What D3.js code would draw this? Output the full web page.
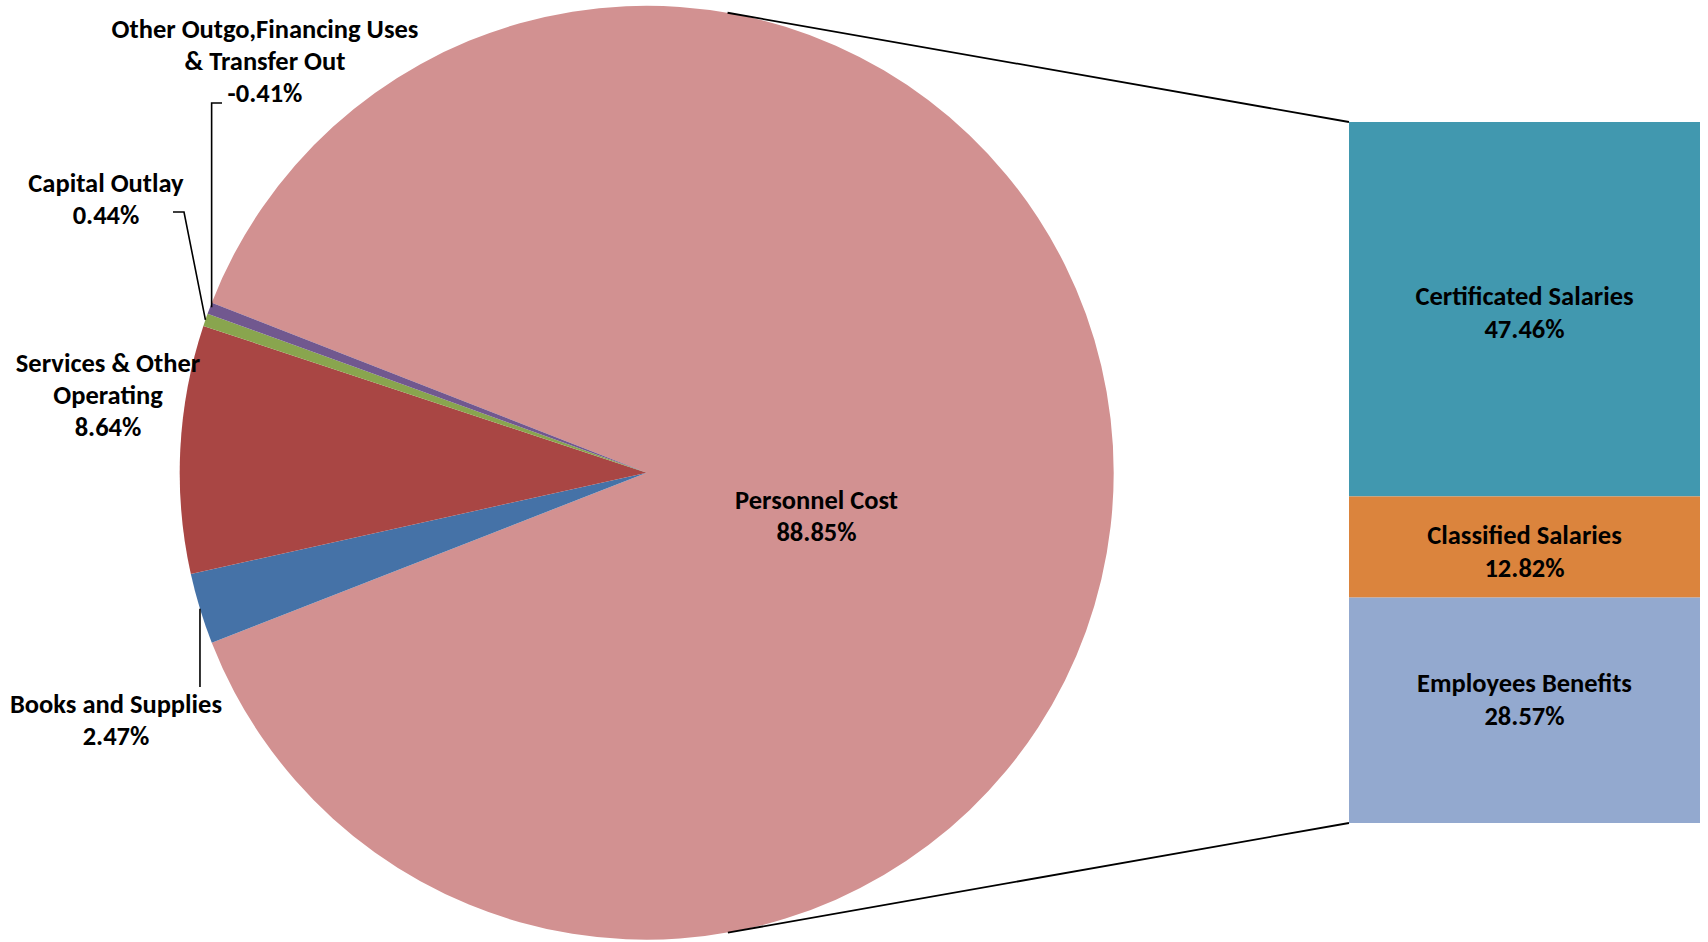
<!DOCTYPE html>
<html>
<head>
<meta charset="utf-8">
<script src="https://cdn.jsdelivr.net/npm/d3@7"></script>
<style>
  html, body { margin: 0; padding: 0; background: #ffffff; }
  svg { display: block; }
  text { font-family: Carlito, Calibri, Lato, "Open Sans", sans-serif; font-weight: 700; fill: #000; }
</style>
</head>
<body>
<svg id="chart" width="1708" height="942"></svg>
<script>
// Expenditure breakdown: main pie plus the split-out Personnel Cost bar
const pieCategories = ["Personnel Cost", "Books and Supplies", "Services & Other Operating", "Capital Outlay", "Other Outgo,Financing Uses & Transfer Out"];
const pieValues = [88.85, 2.47, 8.64, 0.44, -0.41];
const pieColors = ["#D29191", "#4572A7", "#A94644", "#89A54E", "#71588F"];

const barCategories = ["Certificated Salaries", "Classified Salaries", "Employees Benefits"];
const barValues = [47.46, 12.82, 28.57];
const barColors = ["#4198AF", "#DB843D", "#93A9CF"];

// ---- layout ----
const W = 1708, H = 942;
const cx = 646.7, cy = 472.7, R = 467;
const barX0 = 1349, barX1 = 1700, barY0 = 122, barY1 = 823;
const fontSize = 26.5, lineH = 32;

const svg = d3.select("#chart");
const fmt = v => (v < 0 ? "-" : "") + Math.abs(v).toFixed(2) + "%";

// label text broken over lines
const wrap = {
  "Services & Other Operating": ["Services & Other", "Operating"],
  "Other Outgo,Financing Uses & Transfer Out": ["Other Outgo,Financing Uses", "& Transfer Out"]
};
const linesFor = (name, v) => (wrap[name] || [name]).concat([fmt(v)]);

// ---- pie ----
// slice size uses magnitude; the split-out slice is centred on 3 o'clock
const absTotal = d3.sum(pieValues, v => Math.abs(v));
const firstSpan = 2 * Math.PI * Math.abs(pieValues[0]) / absTotal;
const start = Math.PI / 2 - firstSpan / 2;
const pie = d3.pie().sort(null).value(d => Math.abs(d.v)).startAngle(start).endAngle(start + 2 * Math.PI);
const arcs = pie(pieValues.map((v, i) => ({ v, name: pieCategories[i], color: pieColors[i] })));
const arc = d3.arc().innerRadius(0).outerRadius(R);

const gPie = svg.append("g").attr("transform", `translate(${cx},${cy})`);
gPie.selectAll("path").data(arcs).join("path")
  .attr("d", arc)
  .attr("fill", d => d.data.color);

// point on the rim at the middle of a slice (absolute coords)
const rimPoint = d => {
  const a = (d.startAngle + d.endAngle) / 2;
  return [cx + R * Math.sin(a), cy - R * Math.cos(a)];
};

// label placement for pie slices: centre x, first baseline, optional leader
const pieLabelLayout = {
  "Personnel Cost": { x: 816.5, y: 509 },
  "Books and Supplies": { x: 116, y: 713, leader: p => [p, [p[0], 687]] },
  "Services & Other Operating": { x: 108, y: 372 },
  "Capital Outlay": { x: 106, y: 192, leader: p => [[173, 212], [184, 212], p] },
  "Other Outgo,Financing Uses & Transfer Out": { x: 265, y: 38, leader: p => [[222, 103], [p[0] + 2, 103], [p[0] + 2, p[1] - 1]] }
};

const line = d3.line();
arcs.forEach(d => {
  const lay = pieLabelLayout[d.data.name];
  if (lay.leader) {
    svg.append("path")
      .attr("d", line(lay.leader(rimPoint(d))))
      .attr("fill", "none").attr("stroke", "#000").attr("stroke-width", 1.6);
  }
  const t = svg.append("text")
    .attr("text-anchor", "middle")
    .attr("font-size", fontSize);
  linesFor(d.data.name, d.data.v).forEach((s, i) => {
    t.append("tspan").attr("x", lay.x).attr("y", lay.y + i * lineH).text(s);
  });
});

// ---- bar of the split-out slice ----
const yBar = d3.scaleLinear().domain([0, d3.sum(barValues)]).range([barY0, barY1]);
const cum = d3.cumsum(barValues);
const bars = barValues.map((v, i) => ({ name: barCategories[i], v, color: barColors[i], y0: yBar(cum[i] - v), y1: yBar(cum[i]) }));

svg.append("g").selectAll("rect").data(bars).join("rect")
  .attr("x", barX0).attr("width", barX1 - barX0)
  .attr("y", d => d.y0).attr("height", d => d.y1 - d.y0)
  .attr("fill", d => d.color);

const barLabelShift = { "Certificated Salaries": -4, "Classified Salaries": -3, "Employees Benefits": -18 };
bars.forEach(d => {
  const t = svg.append("text").attr("text-anchor", "middle").attr("font-size", fontSize);
  const y = (d.y0 + d.y1) / 2 + barLabelShift[d.name];
  linesFor(d.name, d.v).forEach((s, i) => {
    t.append("tspan").attr("x", (barX0 + barX1) / 2).attr("y", y + i * 33).text(s);
  });
});

// ---- connector lines: tangents from the bar corners to the pie rim ----
function tangentPoint(px, py, upper) {
  const dx = px - cx, dy = py - cy, d = Math.hypot(dx, dy);
  const base = Math.atan2(dy, dx), off = Math.acos(R / d);
  const a = upper ? base - off : base + off;
  return [cx + R * Math.cos(a), cy + R * Math.sin(a)];
}
[[barX0, barY0, true], [barX0, barY1, false]].forEach(([px, py, up]) => {
  svg.append("path")
    .attr("d", line([tangentPoint(px, py, up), [px, py]]))
    .attr("stroke", "#000").attr("stroke-width", 1.8).attr("fill", "none");
});
</script>
</body>
</html>
